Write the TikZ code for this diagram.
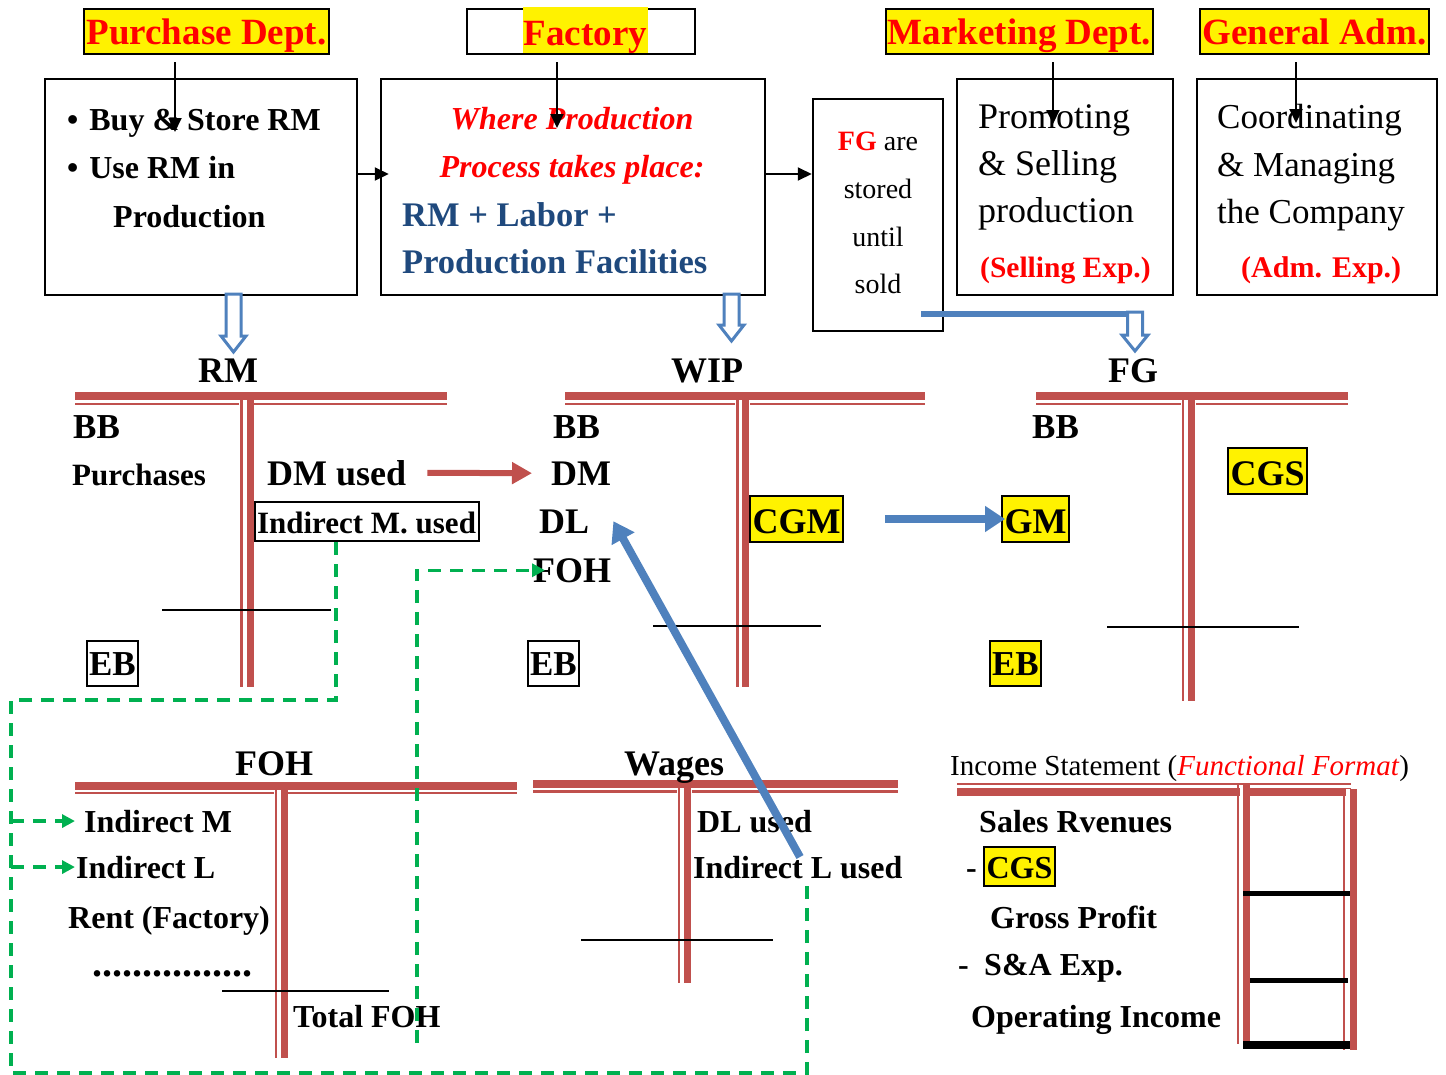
\documentclass[tikz,border=0pt]{standalone}
\usepackage{fontspec}
\setmainfont{Liberation Serif}
\usetikzlibrary{arrows.meta, positioning, calc}

\definecolor{tred}{RGB}{192,80,77}
\definecolor{ablue}{RGB}{79,129,189}
\definecolor{tblue}{RGB}{31,73,125}
\definecolor{gdash}{RGB}{0,176,80}

\begin{document}
\begin{tikzpicture}[x=1pt, y=-1pt,
hdr/.style={draw, line width=2, fill=yellow, text=red, font=\fontsize{37}{40}\selectfont\bfseries, text height=25, text depth=0, inner sep=0},
box/.style={draw, line width=2.5, inner sep=0},
txt/.style={anchor=base west, inner sep=0},
item/.style={txt, font=\fontsize{32}{36}\selectfont\bfseries},
bigitem/.style={txt, font=\fontsize{36}{40}\selectfont\bfseries},
ttitle/.style={anchor=base, inner sep=0, font=\fontsize{36}{40}\selectfont\bfseries},
hlbox/.style={txt, draw, line width=2, inner xsep=2.5, inner ysep=0},
tthick/.style={tred, line width=8},
tthin/.style={tred, line width=2.5},
bal/.style={black, line width=2},
arr/.style={-{Triangle[length=14pt,width=13pt]}, line width=2},
rarr/.style={tred, line width=6, -{Triangle[length=20pt,width=21pt]}},
barr/.style={ablue, line width=8, -{Triangle[length=20pt,width=25pt]}},
gline/.style={gdash, line width=3.5, dash pattern=on 13pt off 9pt},
garr/.style={gline, -{Triangle[length=13pt,width=13pt]}},
hollow/.style={draw=ablue, line width=3, fill=white, line join=miter}]

\useasboundingbox (0,0) rectangle (1446,1074);

% departments
\node[hdr, minimum width=245, minimum height=45]			(purch) at (206.5,31.5)	{Purchase Dept.};
\node[box, line width=2, fill=white, minimum width=228, minimum height=45]	(fact) at (581,31.5) {};
\node[hdr, draw=none, inner xsep=1, text height=38, text depth=8]	(facttxt) at (585.5,30) {Factory};
\node[hdr, minimum width=267, minimum height=45]			(mark) at (1019.5,31.5)	{Marketing Dept.};
\node[hdr, minimum width=229, minimum height=45]			(adm) at (1314.5,31.5)	{General Adm.};

% function boxes
\node[box, minimum width=312, minimum height=216]	(buy) at (201,187) {};
\node[box, minimum width=384, minimum height=216]	(prod) at (573,187) {};
\node[box, minimum width=130, minimum height=232]	(store) at (878,215) {};
\node[box, minimum width=216, minimum height=216]	(sell) at (1065,187) {};
\node[box, minimum width=240, minimum height=216]	(coord) at (1317,187) {};

\node[item] (buy1) at (67,130) {\textbullet\hspace{11pt}Buy \& Store RM};
\node[item] (buy2) at (67,178) {\textbullet\hspace{11pt}Use RM in};
\node[item] (buy3) at (113,227) {Production};

\node[anchor=base, inner sep=0, text=red, font=\fontsize{32}{36}\selectfont\bfseries\itshape] (prod1) at (572,129) {Where Production};
\node[anchor=base, inner sep=0, text=red, font=\fontsize{32}{36}\selectfont\bfseries\itshape] (prod2) at (572,177) {Process takes place:};
\node[item, text=tblue, font=\fontsize{34.5}{38}\selectfont\bfseries] (prod3) at (402,226) {RM + Labor +};
\node[item, text=tblue, font=\fontsize{34.5}{38}\selectfont\bfseries] (prod4) at (402,273) {Production Facilities};

\node[anchor=base, inner sep=0, font=\fontsize{28}{32}\selectfont] (st1) at (878,150) {\textcolor{red}{\textbf{FG}} are};
\node[anchor=base, inner sep=0, font=\fontsize{28}{32}\selectfont] (st2) at (878,198) {stored};
\node[anchor=base, inner sep=0, font=\fontsize{28}{32}\selectfont] (st3) at (878,246) {until};
\node[anchor=base, inner sep=0, font=\fontsize{28}{32}\selectfont] (st4) at (878,293) {sold};

\node[txt, font=\fontsize{36}{40}\selectfont] (sl1) at (978,128) {Promoting};
\node[txt, font=\fontsize{36}{40}\selectfont] (sl2) at (978,175) {\& Selling};
\node[txt, font=\fontsize{36}{40}\selectfont] (sl3) at (978,222) {production};
\node[txt, text=red, font=\fontsize{29.5}{34}\selectfont\bfseries] (sl4) at (980,277) {(Selling Exp.)};

\node[txt, font=\fontsize{35}{40}\selectfont] (co1) at (1217,128) {Coordinating};
\node[txt, font=\fontsize{35}{40}\selectfont] (co2) at (1217,176) {\& Managing};
\node[txt, font=\fontsize{35}{40}\selectfont] (co3) at (1217,223) {the Company};
\node[txt, text=red, font=\fontsize{30}{34}\selectfont\bfseries] (co4) at (1241,277) {(Adm. Exp.)};

% arrows between the boxes
\coordinate (pa) at (175,132);
\coordinate (fa) at (557,128);
\coordinate (ma) at (1053,124);
\coordinate (aa) at (1296,123);
\coordinate (hy) at (0,174);
\draw[arr, shorten <=7pt] (pa |- purch.south) -- (pa);
\draw[arr, shorten <=7pt] (fa |- fact.south) -- (fa);
\draw[arr, shorten <=7pt] (ma |- mark.south) -- (ma);
\draw[arr, shorten <=7pt] (aa |- adm.south) -- (aa);
\draw[arr, shorten >=-9pt] (buy.east |- hy) -- (prod.west |- hy);
\draw[arr] (prod.east |- hy) -- (store.west |- hy);

% hollow arrows down to the accounts
\coordinate (fs) at (921,314);
\coordinate (fe) at (1138,314);
\draw[ablue, line width=6] (fs) -- (fe);
\draw[hollow] (226,294) -- (241,294) -- (241,336) -- (246,336) -- (233.5,352) -- (221,336) -- (226,336) -- cycle;
\draw[hollow] (724,294) -- (739,294) -- (739,325) -- (744,325) -- (731.5,341) -- (719,325) -- (724,325) -- cycle;
\draw[hollow] (1127.5,312) -- (1142.5,312) -- (1142.5,335) -- (1148,335) -- (1135,351) -- (1122,335) -- (1127.5,335) -- cycle;

% RM account
\draw[tthick] (75,396) -- (447,396);
\draw[tthin] (75,404) -- (447,404);
\fill[white] (239,400.5) rectangle (254,406);
\draw[tthin] (241.5,400) -- (241.5,687);
\draw[tthick, line width=7] (250,400) -- (250,687);
\draw[bal] (162,610) -- (331,610);
\node[ttitle] (rm) at (228,382) {RM};
\node[bigitem, font=\fontsize{35}{40}\selectfont\bfseries] (rmbb) at (73,438) {BB};
\node[item, font=\fontsize{31}{35}\selectfont\bfseries] (purchases) at (72,485) {Purchases};
\node[bigitem] (dmused) at (267,485) {DM used};
\node[hlbox, fill=white, text height=31, text depth=8, font=\fontsize{31}{35}\selectfont\bfseries] (imused) at (253.5,533) {Indirect M. used};
\node[hlbox, inner xsep=2, text height=34, text depth=11, font=\fontsize{35}{40}\selectfont\bfseries] (rmeb) at (86,675) {EB};

% WIP account
\draw[tthick] (565,396) -- (925,396);
\draw[tthin] (565,404) -- (925,404);
\fill[white] (735,400.5) rectangle (750,406);
\draw[tthin] (737.5,400) -- (737.5,687);
\draw[tthick, line width=7] (745.5,400) -- (745.5,687);
\draw[bal] (653,626) -- (821,626);
\node[ttitle] (wip) at (707,382) {WIP};
\node[bigitem, font=\fontsize{35}{40}\selectfont\bfseries] (wipbb) at (553,438) {BB};
\node[bigitem] (dm) at (551,485) {DM};
\node[bigitem] (dl) at (539,533) {DL};
\node[bigitem] (foh) at (533,582) {FOH};
\node[hlbox, inner xsep=2, text height=34, text depth=11, font=\fontsize{35}{40}\selectfont\bfseries] (wipeb) at (527,675) {EB};
\node[hlbox, fill=yellow, text height=37, text depth=9, font=\fontsize{36}{40}\selectfont\bfseries] (cgm) at (749,533) {CGM};

% FG account
\draw[tthick] (1036,396) -- (1348,396);
\draw[tthin] (1036,404) -- (1348,404);
\fill[white] (1181,400.5) rectangle (1196,406);
\draw[tthin] (1183,400) -- (1183,701);
\draw[tthick, line width=7] (1191,400) -- (1191,701);
\draw[bal] (1107,627) -- (1299,627);
\node[ttitle] (fg) at (1133,382) {FG};
\node[bigitem, font=\fontsize{35}{40}\selectfont\bfseries] (fgbb) at (1032,438) {BB};
\node[hlbox, fill=yellow, text height=37, text depth=9, font=\fontsize{36}{40}\selectfont\bfseries] (cgs) at (1227,485) {CGS};
\node[hlbox, fill=yellow, text height=37, text depth=9, font=\fontsize{36}{40}\selectfont\bfseries] (gm) at (1001,533) {GM};
\node[hlbox, fill=yellow, inner xsep=2, text height=34, text depth=11, font=\fontsize{35}{40}\selectfont\bfseries] (fgeb) at (989,675) {EB};

% FOH account
\draw[tthick] (75,785.5) -- (517,785.5);
\draw[tthin] (75,793) -- (517,793);
\fill[white] (273.5,789.5) rectangle (288,795);
\draw[tthin] (276,789.5) -- (276,1058);
\draw[tthick, line width=7] (284,789.5) -- (284,1058);
\draw[bal] (222,991) -- (389,991);
\node[ttitle] (fohacc) at (274,775) {FOH};
\node[item] (indm) at (84,832) {Indirect M};
\node[item] (indl) at (76,878) {Indirect L};
\node[item] (rent) at (68,928) {Rent (Factory)};
\node[txt, font=\fontsize{40}{44}\selectfont\bfseries] (dots) at (92,976) {................};
\node[item] (tfoh) at (293,1027) {Total FOH};

% Wages account
\draw[tthick] (533,784) -- (898,784);
\draw[tthin] (533,791.5) -- (898,791.5);
\fill[white] (677,788) rectangle (692,794);
\draw[tthin] (679,788) -- (679,983);
\draw[tthick, line width=7] (687.5,788) -- (687.5,983);
\draw[bal] (581,940) -- (773,940);
\node[ttitle] (wages) at (674,775) {Wages};
\node[item] (dlused) at (697,832) {DL used};
\node[item] (ilused) at (693,878) {Indirect L used};

% income statement
\draw[tthin] (957,784) -- (1351,784);
\draw[tthick] (957,792) -- (1351,792);
\fill[white] (1240,786) rectangle (1243.5,797);
\draw[tthin] (1238,785) -- (1238,1044);
\draw[tthick, line width=7] (1246.5,785) -- (1246.5,1044);
\fill[white] (1345.5,789) rectangle (1350,797);
\draw[tthin] (1344,789) -- (1344,1050);
\draw[tthick, line width=7] (1353.5,789) -- (1353.5,1050);
\draw[black, line width=5] (1243,893) -- (1350,893);
\draw[black, line width=5] (1250,980) -- (1348,980);
\draw[black, line width=8] (1243,1045) -- (1350,1045);
\node[txt, font=\fontsize{29}{33}\selectfont] (istitle) at (950,775) {Income Statement (\textcolor{red}{\textit{Functional Format}})};
\node[item] (sales) at (979,832) {Sales Rvenues};
\node[item] (minus1) at (966,878) {-};
\node[hlbox, fill=yellow, text height=31, text depth=8, font=\fontsize{32}{36}\selectfont\bfseries] (iscgs) at (983,878) {CGS};
\node[item] (gp) at (990,928) {Gross Profit};
\node[item] (minus2) at (958,975) {-};
\node[item] (sa) at (984,975) {S\&A Exp.};
\node[item] (oi) at (971,1027) {Operating Income};

% flows between the accounts
\draw[rarr, shorten <=21pt, shorten >=19pt] (dmused.east) -- (dm.west);
\draw[barr, shorten <=41pt, shorten >=-4pt] (cgm.east) -- (gm.west);
\coordinate (wl) at (800,857);
\draw[barr] (wl) -- ([xshift=24pt]dl.east);

% indirect costs to FOH
\coordinate (gx) at (336,700);
\coordinate (gl) at (11,700);
\coordinate (gb) at (11,1073);
\coordinate (gr) at (807,1073);
\coordinate (gt) at (417,1043);
\draw[gline] (imused.south -| gx) -- (gx) -- (gl) -- (gb) -- (gr) -- ([yshift=-2pt]gr |- ilused.south);
\draw[garr, shorten >=9pt] (gl |- indm.west) -- (indm.west);
\draw[garr, shorten >=1pt] (gl |- indl.west) -- (indl.west);
\draw[garr, shorten >=-12pt] (gt) |- (foh.west);

\end{tikzpicture}
\end{document}
